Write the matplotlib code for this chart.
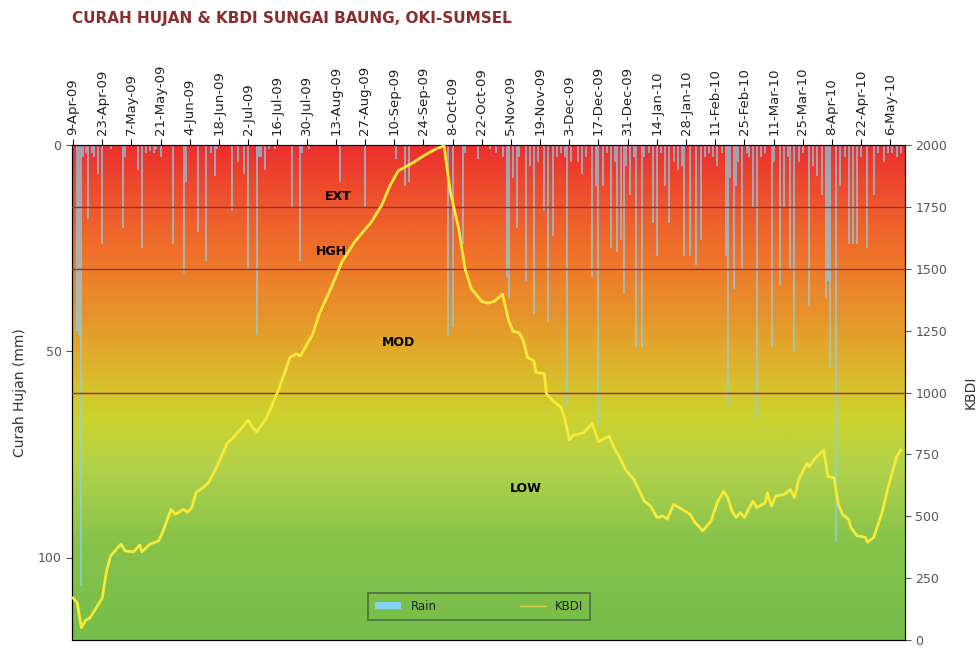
import matplotlib
matplotlib.use("Agg")
import matplotlib.pyplot as plt
import numpy as np
import pandas as pd
from matplotlib.colors import LinearSegmentedColormap
from matplotlib.patches import Patch
from matplotlib.lines import Line2D

# day offsets from 9-Apr-2009
kbdi_day = [0, 2, 4, 6, 8, 11, 14, 16, 18, 23, 25, 29, 32, 33, 37, 41, 43, 47, 49, 53,
            55, 57, 59, 63, 65, 69, 74, 77, 84, 86, 88, 93, 99, 104, 107, 109, 115, 118,
            123, 129, 135, 143, 148, 152, 156, 163, 169, 175, 178, 179, 181, 185, 188,
            191, 196, 199, 202, 206, 209, 211, 214, 216, 218, 221, 222, 226, 227, 230,
            234, 236, 238, 240, 245, 249, 252, 257, 260, 262, 265, 269, 274, 277, 280,
            283, 285, 288, 292, 296, 298, 302, 306, 309, 312, 314, 316, 318, 320, 322,
            326, 328, 332, 333, 335, 337, 341, 344, 346, 348, 352, 353, 356, 360, 362,
            365, 367, 369, 372, 373, 376, 380, 381, 384, 388, 391, 395, 397]
kbdi_val = [170, 150, 50, 80, 88, 128, 170, 276, 340, 388, 360, 356, 384, 356, 388, 400,
            436, 528, 508, 528, 516, 536, 596, 620, 636, 700, 796, 820, 888, 860, 840, 900,
            1020, 1141, 1156, 1148, 1236, 1316, 1408, 1528, 1608, 1688, 1756, 1836, 1896,
            1928, 1961, 1988, 1996, 1928, 1808, 1660, 1500, 1420, 1368, 1361, 1368, 1397,
            1288, 1248, 1241, 1208, 1141, 1128, 1081, 1076, 996, 968, 941, 888, 808, 828,
            837, 876, 801, 824, 768, 741, 688, 648, 561, 541, 495, 501, 488, 548, 528, 508,
            478, 441, 481, 555, 601, 576, 521, 495, 515, 495, 561, 535, 555, 595, 541, 581,
            588, 608, 575, 648, 715, 701, 735, 768, 661, 655, 548, 508, 488, 455, 421, 415,
            395, 415, 515, 620, 741, 768]

rain_day = [2, 3, 4, 5, 6, 7, 9, 10, 12, 14, 18, 24, 25, 31, 33, 35, 37, 39, 40, 42, 48,
            53, 54, 60, 64, 66, 68, 69, 76, 79, 82, 84, 88, 89, 90, 92, 94, 97, 105, 109,
            110, 113, 128, 140, 155, 159, 161, 176, 180, 182, 187, 188, 194, 200, 203, 206,
            208, 209, 211, 213, 214, 217, 219, 221, 223, 226, 228, 230, 232, 234, 236, 237,
            239, 242, 244, 246, 249, 251, 252, 254, 256, 258, 260, 261, 263, 264, 265, 267,
            269, 270, 273, 274, 276, 278, 280, 282, 284, 286, 288, 290, 292, 293, 296, 299,
            301, 303, 305, 307, 309, 311, 313, 314, 315, 317, 318, 319, 321, 323, 324, 326,
            328, 330, 332, 335, 336, 339, 341, 343, 344, 346, 348, 350, 353, 355, 357, 359,
            361, 362, 363, 366, 368, 370, 372, 374, 376, 378, 381, 384, 386, 389, 391, 393,
            395, 397]
rain_mm = [45, 46, 107, 3, 2, 18, 2, 3, 7, 24, 1, 20, 3, 6, 25, 2, 1.5, 2, 1, 3, 24,
           31, 9, 21, 28, 2, 7.5, 1, 16, 4, 7, 30, 46, 3, 3, 6, 1, 1, 15, 28,
           2, 1, 9, 15, 3.5, 10, 9, 1, 46, 44, 24, 2, 3.5, 1, 2, 3,
           32, 37, 8, 20, 3, 33, 5, 41, 4, 16, 43, 22, 3, 2, 3, 63,
           4, 4, 7, 3, 32, 10, 68, 10, 2, 25, 4, 26, 23, 36, 5, 12,
           3, 49, 49, 3, 2, 19, 27, 2, 10, 19, 4, 6, 5, 27, 27, 29,
           23, 3, 2, 3, 5, 2, 27, 63, 8, 35, 10, 4, 30, 2, 3, 15,
           66, 3, 2, 49, 4, 34, 15, 3, 30, 50, 4, 2, 39, 5, 7.5, 12,
           37, 33, 54, 96, 10, 3, 24, 24, 24, 3, 25, 12, 2, 4, 2, 2,
           3, 2]

tick_dates = pd.date_range("2009-04-09", periods=29, freq="14D")
tick_pos = [(d - tick_dates[0]).days for d in tick_dates]
tick_labels = [f"{d.day}-{d.strftime('%b-%y')}" for d in tick_dates]

levels = [1000, 1500, 1750]
level_names = ["LOW", "MOD", "HGH", "EXT"]

bg_cmap = LinearSegmentedColormap.from_list("kbdi", [
    (0.0, "#76bd4a"), (0.2, "#88c34b"), (0.35, "#b3d24a"), (0.45, "#cbd22f"),
    (0.5, "#d6c52d"), (0.6, "#e2a52b"), (0.75, "#ee7a2a"), (0.875, "#ee582c"),
    (1.0, "#ec2f2e")])

fig = plt.figure(figsize=(9.78, 6.48), dpi=100)
ax = fig.add_axes([72 / 978, 8 / 648, 833 / 978, 495 / 648])
x0, x1 = -0.5, 399

grad = np.linspace(0, 1, 256).reshape(-1, 1)
ax.imshow(grad, cmap=bg_cmap, origin="lower", extent=[x0, x1, 120, 0],
          aspect="auto", zorder=0)
ax.bar(rain_day, rain_mm, width=0.95, color="#86d3f2", alpha=0.68, zorder=2,
       linewidth=0)
ax.set_xlim(x0, x1)
ax.set_ylim(120, 0)
ax.set_yticks([0, 50, 100])
ax.set_ylabel("Curah Hujan (mm)", fontsize=10, color="#333333", labelpad=8)
ax.xaxis.tick_top()
ax.set_xticks(tick_pos)
ax.set_xticklabels(tick_labels, rotation=90, fontsize=9.5, color="#222222")
ax.tick_params(axis="y", labelsize=9, colors="#555555", direction="out", length=4)
ax.tick_params(axis="x", direction="out", length=4, pad=3)

ax2 = ax.twinx()
for lv in levels:
    ax2.axhline(lv, color="#9b2a3c", lw=1, zorder=3)
ax2.plot(kbdi_day, kbdi_val, color="#f6ea3a", lw=2, zorder=4)
ax2.set_ylim(0, 2000)
ax2.set_yticks(np.arange(0, 2001, 250))
ax2.set_ylabel("KBDI", fontsize=10, color="#333333", labelpad=12)
ax2.tick_params(axis="y", labelsize=9, colors="#555555", direction="out", length=4)
ax2.set_xlim(x0, x1)

for name, (tx, ty) in zip(level_names, [(217, 612), (156, 1200), (124, 1570), (127, 1790)]):
    ax2.text(tx, ty, name, fontsize=9, fontweight="bold", color="black",
             ha="center", va="center", zorder=5)

handles = [Patch(facecolor="#86d3f2", edgecolor="none"),
           Line2D([0], [0], color="#d8d24a", lw=1)]
leg = ax2.legend(handles, ["Rain", "KBDI"], loc="center", ncol=2,
                 bbox_to_anchor=(0.489, 0.068), frameon=True, fancybox=False,
                 fontsize=8.5, columnspacing=7, handlelength=2.2,
                 borderpad=0.6, handleheight=0.6)
leg.get_frame().set_facecolor("none")
leg.get_frame().set_edgecolor("#3d5a3d")
leg.get_frame().set_linewidth(1.2)
for t in leg.get_texts():
    t.set_color("#222222")

fig.text(72 / 978, 1 - 18 / 648, "CURAH HUJAN & KBDI SUNGAI BAUNG, OKI-SUMSEL",
         fontsize=11, fontweight="heavy", color="#8b2d2d", va="center")

fig.savefig("out.png", dpi=100)
